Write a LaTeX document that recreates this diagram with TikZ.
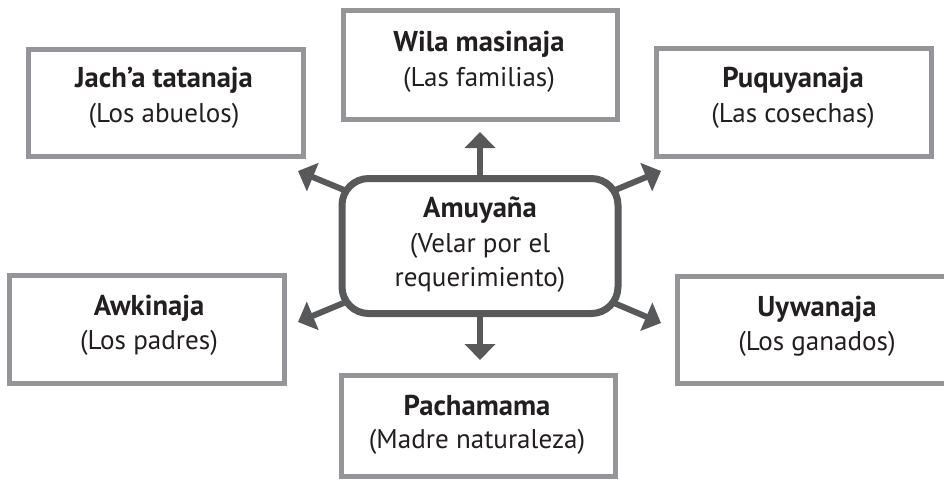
\documentclass[tikz,border=0pt]{standalone}
\usepackage{fontspec}
\setmainfont{PT Sans}
\usetikzlibrary{arrows.meta,backgrounds}
\definecolor{boxgray}{RGB}{147,149,152}
\definecolor{darkline}{RGB}{88,89,91}
\definecolor{inkblack}{RGB}{35,31,32}
\begin{document}
\begin{tikzpicture}[x=0.75pt,y=-0.75pt,
  outerbox/.style={draw=boxgray,line width=3.75pt,fill=white,rectangle,inner sep=0pt,outer sep=0pt},
  centerbox/.style={draw=darkline,line width=5.25pt,fill=white,rectangle,rounded corners=20pt,inner sep=0pt,outer sep=0pt,minimum width=207pt,minimum height=101.25pt},
  ttl/.style={anchor=base,font=\fontsize{21.5}{24}\selectfont\bfseries,text=inkblack,inner sep=0pt},
  subt/.style={anchor=base,font=\fontsize{20.3}{22}\selectfont,text=inkblack,inner sep=0pt},
  conn/.style={draw=darkline,line width=4.5pt,-{Triangle[length=12pt,width=22.5pt]}}
]
\useasboundingbox (0,0) rectangle (944,483);
\clip (0,0) rectangle (944,483);

% boxes
\node[outerbox,minimum width=206.25pt,minimum height=80.25pt] (jach) at (166,103) {};
\node[outerbox,minimum width=205.5pt,minimum height=81.75pt] (wila) at (480.5,65) {};
\node[outerbox,minimum width=206.25pt,minimum height=81pt] (puqu) at (794,102.5) {};
\node[outerbox,minimum width=206.25pt,minimum height=81pt] (awki) at (147,329.5) {};
\node[outerbox,minimum width=207.75pt,minimum height=80.25pt] (uywa) at (816,330) {};
\node[outerbox,minimum width=205.5pt,minimum height=75.75pt] (pacha) at (478.5,426) {};
\node[centerbox] (c) at (480,246) {};

% texts
\node[ttl] (jachT) at (164,87) {Jach’a tatanaja};
\node[subt] (jachS) at (164,122) {(Los abuelos)};
\node[ttl] (wilaT) at (479,51) {Wila masinaja};
\node[subt] (wilaS) at (479,86) {(Las familias)};
\node[ttl] (puquT) at (793,87) {Puquyanaja};
\node[subt] (puquS) at (793,122) {(Las cosechas)};
\node[ttl] (awkiT) at (149,315) {Awkinaja};
\node[subt] (awkiS) at (149,349) {(Los padres)};
\node[ttl] (uywaT) at (817,316) {Uywanaja};
\node[subt] (uywaS) at (817,350) {(Los ganados)};
\node[ttl] (pachaT) at (477,415) {Pachamama};
\node[subt] (pachaS) at (477,448) {(Madre naturaleza)};
\node[ttl] (cT) at (480,217) {Amuyaña};
\node[subt] (cS1) at (480,252) {(Velar por el};
\node[subt] (cS2) at (480,286) {requerimiento)};

% arrow tips
\coordinate (tJach) at (298,171);
\coordinate (tWila) at (480,132);
\coordinate (tPuqu) at (661,171);
\coordinate (tAwki) at (298,322);
\coordinate (tUywa) at (661,323);
\coordinate (tPacha) at (480,360);

\begin{scope}[on background layer]
\fill[white] (0,0) rectangle (944,483);
\draw[conn] (c.center) -- (tJach);
\draw[conn] (c.center) -- (tWila);
\draw[conn] (c.center) -- (tPuqu);
\draw[conn] (c.center) -- (tAwki);
\draw[conn] (c.center) -- (tUywa);
\draw[conn] (c.center) -- (tPacha);
\end{scope}
\end{tikzpicture}
\end{document}
